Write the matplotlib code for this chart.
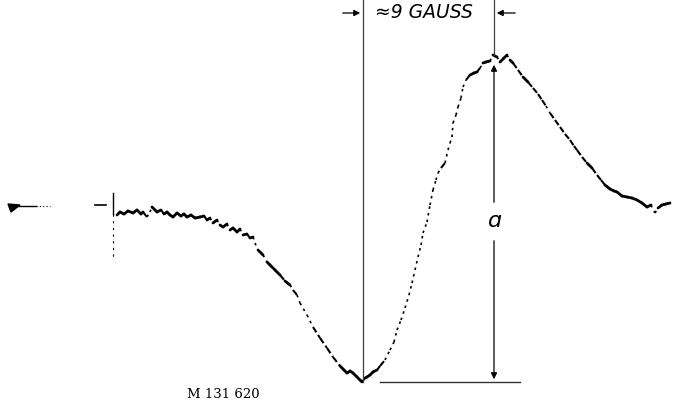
import numpy as np
import matplotlib.pyplot as plt
from matplotlib import patches

# recorder trace, in sheet units (x to the right, y downward)
field = [117, 120, 124, 128, 133, 137, 141, 143, 147, 150, 152, 155, 157, 161, 164, 167, 170,
         173, 177, 181, 184, 187, 191, 195, 200, 204, 207, 210, 213, 217, 220, 223, 227,
         230, 233, 237, 240, 243, 247, 250, 253, 255, 258, 263, 267, 270, 275, 280, 285,
         290, 293, 297, 300, 307, 313, 320, 327, 333, 340, 344, 347, 350, 353, 357, 360,
         362, 365, 367, 370, 373, 377, 380, 385, 390, 394, 397, 401, 405, 409, 412, 415,
         418, 421, 423, 427, 430, 433, 436, 438, 441, 445, 448, 450, 452, 453, 456, 458,
         461, 463, 466, 470, 474, 477, 480, 483, 486, 490, 493, 497, 500, 504, 507, 510,
         513, 518, 523, 528, 533, 538, 542, 546, 550, 555, 560, 565, 570, 574, 577, 582,
         587, 592, 597, 601, 605, 610, 614, 617, 622, 627, 632, 637, 642, 647, 651, 655,
         658, 662, 666, 670]
signal = [215, 212, 214, 211, 213, 210, 214, 212, 217, 212, 207, 210, 212, 210, 214, 212, 215,
          217, 213, 216, 214, 217, 215, 218, 217, 216, 220, 218, 223, 220, 225, 227, 224,
          230, 228, 232, 229, 235, 234, 238, 237, 243, 250, 255, 262, 265, 270, 275, 281,
          285, 290, 295, 303, 315, 327, 338, 348, 357, 366, 370, 373, 371, 373, 377, 380,
          382, 378, 377, 375, 372, 370, 366, 360, 350, 342, 330, 320, 308, 295, 283, 270,
          257, 245, 233, 222, 205, 190, 180, 173, 168, 163, 150, 143, 137, 123, 115, 107,
          98, 87, 80, 75, 73, 72, 68, 63, 62, 61, 55, 57, 62, 58, 55, 60,
          63, 70, 77, 82, 88, 94, 100, 106, 113, 120, 127, 134, 140, 146, 150, 157,
          163, 168, 175, 180, 185, 189, 191, 192, 196, 197, 198, 200, 203, 207, 205, 213,
          208, 205, 204, 203]

# markers on the sheet
x_start = 113       # start of sweep
x_min = 363         # field at minimum of trace
x_max = 494         # field at maximum of trace
y_low = 382
y_top = 13

fig = plt.figure(figsize=(6.84, 4.05), dpi=100)
ax = fig.add_axes([0, 0, 1, 1])
ax.set_xlim(0, 684)
ax.set_ylim(405, 0)
ax.axis('off')

# the pen leaves a lighter, broken trace where the signal changes fast
fx = np.array(field, dtype=float)
sy = np.array(signal, dtype=float)
for i in range(len(fx) - 1):
    slope = abs(sy[i + 1] - sy[i]) / (fx[i + 1] - fx[i])
    if slope > 1.6:
        ax.plot(fx[i:i + 2], sy[i:i + 2], color='black', lw=1.2, ls=(0, (1.5, 2.5)))
    elif slope > 1.0:
        ax.plot(fx[i:i + 2], sy[i:i + 2], color='black', lw=1.5, ls=(0, (3, 1.5)))
    else:
        ax.plot(fx[i:i + 2], sy[i:i + 2], color='black', lw=2.0, solid_capstyle='round')

# zero line at the left
ax.plot([16, 36], [206, 206], color='black', lw=1.0)
ax.plot([36, 50], [206, 206], color='black', lw=0.8, ls=(0, (1, 2)))
ax.plot([95, 106], [205, 205], color='black', lw=1.2)
ax.add_patch(patches.Polygon([[8, 204], [20, 205], [11, 212]], closed=True, color='black'))
ax.plot([x_start, x_start], [193, 214], color='black', lw=1.0)
ax.plot([x_start, x_start], [214, 258], color='black', lw=0.8, ls=(0, (2, 4)))

# width markers
ax.plot([x_min, x_min], [0, y_low], color='0.25', lw=0.9)
ax.plot([x_max, x_max], [0, 55], color='0.25', lw=0.9)
ax.annotate('', xy=(x_min, y_top), xytext=(340, y_top),
            arrowprops=dict(arrowstyle='-|>', color='black', lw=0.9, mutation_scale=9))
ax.annotate('', xy=(x_max, y_top), xytext=(518, y_top),
            arrowprops=dict(arrowstyle='-|>', color='black', lw=0.9, mutation_scale=9))
ax.text(375, y_top, '\u22489 GAUSS', fontsize=13.5, style='italic', va='center', ha='left')

# amplitude arrow
ax.plot([380, 520], [y_low, y_low], color='0.2', lw=1.0)
ax.annotate('', xy=(x_max, 62), xytext=(x_max, 205),
            arrowprops=dict(arrowstyle='-|>', color='black', lw=0.9, mutation_scale=9))
ax.annotate('', xy=(x_max, y_low), xytext=(x_max, 238),
            arrowprops=dict(arrowstyle='-|>', color='black', lw=0.9, mutation_scale=9))
ax.text(x_max, 221, '\u0251', fontsize=16, style='italic', ha='center', va='center')

ax.text(187, 395, 'M 131 620', fontsize=9.5, family='DejaVu Serif', va='center', ha='left')

fig.savefig('out.png', dpi=100)
